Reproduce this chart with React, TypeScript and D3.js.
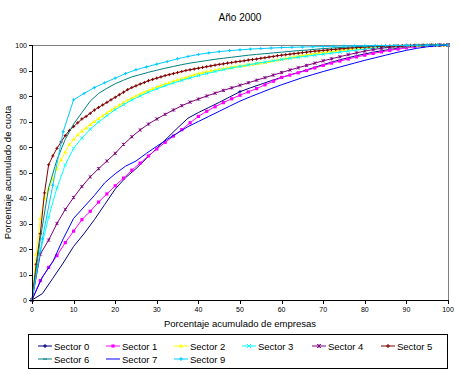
import React from 'react';
import * as d3 from 'd3';

const W = 459;
const H = 374;

const title = 'Año 2000';
const xTitle = 'Porcentaje acumulado de empresas';
const yTitle = 'Porcentaje acumulado de cuota';
const tickValues = [0, 10, 20, 30, 40, 50, 60, 70, 80, 90, 100];

const grid1 = [0,1,2,3,4,5,6,7,8,9,10,11,12,13,14,15,16,17,18,19,20,21,22,23,24,25,26,27,28,29,30,31,32,33,34,35,36,37,38,39,40,41,42,43,44,45,46,47,48,49,50,51,52,53,54,55,56,57,58,59,60,61,62,63,64,65,66,67,68,69,70,71,72,73,74,75,76,77,78,79,80,81,82,83,84,85,86,87,88,89,90,91,92,93,94,95,96,97,98,99,100];
const grid2 = [0,2,4,6,8,10,12,14,16,18,20,22,24,26,28,30,32,34,36,38,40,42,44,46,48,50,52,54,56,58,60,62,64,66,68,70,72,74,76,78,80,82,84,86,88,90,92,94,96,98,100];
const grid25 = [0,2.5,5,7.5,10,12.5,15,17.5,20,22.5,25,27.5,30,32.5,35,37.5,40,42.5,45,47.5,50,52.5,55,57.5,60,62.5,65,67.5,70,72.5,75,77.5,80,82.5,85,87.5,90,92.5,95,97.5,100];

const sector0 = [0,2.5,8.5,14.5,21,26,31.5,37.5,43.5,48,51.5,55.5,59.5,63.5,67.5,71.3,73.5,75.5,77.5,79.6,81.7,83.2,84.6,86,87.3,88.5,89.7,91,92.3,93.5,94.6,95.6,96.5,97.3,98,98.6,99.1,99.5,99.8,99.9,100];
const sector0Marked = [50];
const sector1 = [0,7.6,12.8,17.4,22.5,27,31.5,34.8,38.4,41.6,44.8,47.8,50.9,53.7,56.5,59.2,61.8,64.3,66.8,69.5,72,74,75.8,77.4,78.9,80.3,81.6,82.9,84.4,85.8,87.3,88.2,89.1,90,91,92,92.9,93.7,94.5,95.3,96,96.7,97.3,97.9,98.4,98.9,99.3,99.6,99.8,99.9,100];
const sector2 = [0,18,32,40,43.5,47.5,51.5,55,58,61,63,64.8,66.3,67.5,68.8,70,71.2,72.3,73.4,74.4,75.4,76.4,77.4,78.3,79.2,80,80.8,81.5,82.2,82.9,83.5,84.1,84.7,85.2,85.8,86.3,86.8,87.3,87.8,88.3,88.8,89.1,89.5,89.8,90.1,90.4,90.7,91,91.3,91.6,91.8,92,92.3,92.5,92.7,92.9,93.2,93.5,93.8,94.1,94.4,94.7,95,95.3,95.6,95.9,96.1,96.4,96.6,96.9,97.1,97.3,97.5,97.7,97.9,98.1,98.3,98.5,98.7,98.8,99,99.1,99.2,99.3,99.4,99.5,99.55,99.6,99.65,99.7,99.75,99.8,99.82,99.85,99.87,99.9,99.92,99.94,99.96,99.98,100];
const sector3 = [0,19,32.5,44,53,59.5,63.5,67,69.8,72.3,74.6,76.6,78.4,80,81.5,82.8,84,85.1,86.1,87.1,88,88.8,89.6,90.3,91,91.6,92.2,92.8,93.3,93.8,94.3,94.8,95.2,95.6,96,96.4,96.8,97.2,97.6,98,98.4,98.7,99,99.2,99.4,99.6,99.7,99.8,99.9,99.95,100];
const sector4 = [0,18,23.5,30,35.5,40.2,44.5,48.3,51.5,54.5,57.5,61,64,66.7,69,71,72.8,74.5,76.2,77.6,78.8,80,81.1,82.2,83.2,84.2,85.2,86.2,87.2,88.2,89.2,90.2,91.1,92,92.9,93.8,94.6,95.4,96.2,96.9,97.6,98.2,98.7,99.1,99.4,99.6,99.75,99.85,99.9,99.95,100];
const sector5 = [0,14,26,42,53,56.5,59.5,62,64.5,66.5,68,69.5,71,72,73.2,74.5,75.5,76.5,77.5,78.5,79.5,80.5,81.5,82.5,83.3,84,84.7,85.3,86,86.5,87,87.5,88,88.4,88.8,89.2,89.6,90,90.3,90.6,90.9,91.2,91.5,91.8,92.1,92.4,92.6,92.9,93.1,93.4,93.6,93.8,94.1,94.3,94.5,94.8,95,95.3,95.5,95.8,96,96.2,96.4,96.6,96.8,97,97.2,97.4,97.6,97.7,97.9,98,98.2,98.3,98.5,98.6,98.8,98.9,99,99.1,99.2,99.3,99.4,99.45,99.5,99.55,99.6,99.65,99.7,99.75,99.8,99.82,99.85,99.87,99.9,99.92,99.94,99.96,99.97,99.99,100];
const sector6 = [0,24,44,55,63,69,73.5,78,81,83,84.8,86.2,87.5,88.4,89.3,90.1,90.9,91.6,92.3,92.9,93.4,93.9,94.4,94.8,95.2,95.6,96,96.3,96.6,96.9,97.2,97.5,97.8,98,98.3,98.6,98.8,99,99.2,99.35,99.5,99.6,99.7,99.75,99.8,99.85,99.9,99.93,99.96,99.98,100];
const sector7 = [0,9,15,24,32,36.5,41,46,49.5,52.5,54.5,57.5,60.3,63,65.5,68,70,72,74,76,78,79.7,81.3,82.9,84.4,85.8,87.2,88.4,89.6,90.7,91.8,92.9,94,95,96,97,97.9,98.7,99.3,99.7,100];
const sector9 = [0,24,45,66,78.5,81,83.3,85.2,87,88.8,90.3,91.4,92.5,93.5,94.6,95.5,96.3,96.9,97.4,97.8,98.1,98.4,98.6,98.8,99,99.1,99.2,99.3,99.4,99.5,99.6,99.65,99.7,99.75,99.8,99.85,99.9,99.92,99.95,99.98,100];

type Marker = 'square' | 'triangle' | 'x' | 'star' | 'plus' | 'dash' | 'none';
interface Series { name: string; color: string; xs: number[]; ys: number[]; marker: Marker; markAt?: number[]; }

const seriesList: Series[] = [
  { name: 'Sector 0', color: '#000080', xs: grid25, ys: sector0, marker: 'plus', markAt: sector0Marked },
  { name: 'Sector 1', color: '#FF00FF', xs: grid2, ys: sector1, marker: 'square' },
  { name: 'Sector 2', color: '#FFFF00', xs: grid1, ys: sector2, marker: 'triangle' },
  { name: 'Sector 3', color: '#00FFFF', xs: grid2, ys: sector3, marker: 'x' },
  { name: 'Sector 4', color: '#800080', xs: grid2, ys: sector4, marker: 'star' },
  { name: 'Sector 5', color: '#800000', xs: grid1, ys: sector5, marker: 'plus' },
  { name: 'Sector 6', color: '#008080', xs: grid2, ys: sector6, marker: 'dash' },
  { name: 'Sector 7', color: '#0000FF', xs: grid25, ys: sector7, marker: 'none' },
  { name: 'Sector 9', color: '#00CCFF', xs: grid25, ys: sector9, marker: 'plus' },
];

function MarkerShape({ type, x, y, color, s = 1.6 }: { type: Marker; x: number; y: number; color: string; s?: number }) {
  switch (type) {
    case 'square':
      return <rect x={x - 1.6} y={y - 1.6} width={3.2} height={3.2} fill={color} />;
    case 'triangle':
      return <path d={`M${x},${y - 2.2}L${x + 2},${y + 1.5}L${x - 2},${y + 1.5}Z`} fill={color} />;
    case 'x':
      return <path d={`M${x - s},${y - s}L${x + s},${y + s}M${x - s},${y + s}L${x + s},${y - s}`} stroke={color} strokeWidth={0.9} />;
    case 'star':
      return <path d={`M${x - s},${y - s}L${x + s},${y + s}M${x - s},${y + s}L${x + s},${y - s}M${x},${y - s}L${x},${y + s}`} stroke={color} strokeWidth={0.9} />;
    case 'plus':
      return <path d={`M${x - s},${y}L${x + s},${y}M${x},${y - s}L${x},${y + s}`} stroke={color} strokeWidth={1} />;
    case 'dash':
      return <path d={`M${x - s},${y}L${x + s},${y}`} stroke={color} strokeWidth={1} />;
    default:
      return null;
  }
}

export default function App() {
  const x = d3.scaleLinear().domain([0, 100]).range([32, 448]);
  const y = d3.scaleLinear().domain([0, 100]).range([300, 45]);
  const line = d3.line<[number, number]>().x(d => x(d[0])).y(d => y(d[1]));
  const font = 'Arial, "Liberation Sans", sans-serif';

  const legendCols = [38, 106, 174, 242, 312, 381];
  const legendRows = [346, 359];

  return (
    <svg width={W} height={H} style={{ position: 'absolute', left: 0, top: 0, background: '#fff' }} fontFamily={font}>
      <rect x={0} y={0} width={W} height={H} fill="#fff" />
      <text x={240} y={21} textAnchor="middle" fontSize={10}>{title}</text>

      <path d={`M${x(0)},${y(100) + 0.5}H${x(100) + 0.5}V${y(0)}`} fill="none" stroke="#808080" strokeWidth={1} shapeRendering="crispEdges" />

      {seriesList.map(s => {
        const pts: [number, number][] = s.xs.map((xv, i) => [xv, s.ys[i]]);
        return (
          <g key={s.name}>
            <path d={line(pts) || ''} fill="none" stroke={s.color} strokeWidth={1} />
            {s.marker !== 'none' && s.marker !== 'dash' && pts
              .filter(p => !s.markAt || s.markAt.includes(p[0]))
              .map((p, i) => <MarkerShape key={i} type={s.marker} x={x(p[0])} y={y(p[1])} color={s.color} />)}
          </g>
        );
      })}

      <g shapeRendering="crispEdges">
        <line x1={x(0) + 0.5} x2={x(0) + 0.5} y1={y(0)} y2={y(100)} stroke="#000" />
        <line x1={x(0)} x2={x(100) + 1} y1={y(0) + 0.5} y2={y(0) + 0.5} stroke="#000" />
        {tickValues.map(t => (
          <g key={'y' + t}>
            <line x1={x(0) - 3} x2={x(0)} y1={Math.round(y(t)) + 0.5} y2={Math.round(y(t)) + 0.5} stroke="#000" />
            <line x1={Math.round(x(t)) + 0.5} x2={Math.round(x(t)) + 0.5} y1={y(0)} y2={y(0) + 4} stroke="#000" />
          </g>
        ))}
      </g>
      {tickValues.map(t => (
        <g key={'l' + t}>
          <text x={x(0) - 5} y={y(t) + 2.5} textAnchor="end" fontSize={7}>{t}</text>
          <text x={x(t)} y={y(0) + 12} textAnchor="middle" fontSize={7}>{t}</text>
        </g>
      ))}

      <text x={240} y={327} textAnchor="middle" fontSize={9.5}>{xTitle}</text>
      <text transform={`translate(11,${(y(0) + y(100)) / 2}) rotate(-90)`} textAnchor="middle" fontSize={9.5}>{yTitle}</text>

      <rect x={28.5} y={334.5} width={419} height={34} fill="#fff" stroke="#000" strokeWidth={1} shapeRendering="crispEdges" />
      {seriesList.map((s, i) => {
        const cx = legendCols[i % 6];
        const cy = legendRows[Math.floor(i / 6)];
        return (
          <g key={'lg' + s.name}>
            <line x1={cx} x2={cx + 14} y1={cy} y2={cy} stroke={s.color} strokeWidth={1} />
            <MarkerShape type={s.marker} x={cx + 7} y={cy} color={s.color} s={2} />
            <text x={cx + 16} y={cy + 3.5} fontSize={9.5}>{s.name}</text>
          </g>
        );
      })}
    </svg>
  );
}
